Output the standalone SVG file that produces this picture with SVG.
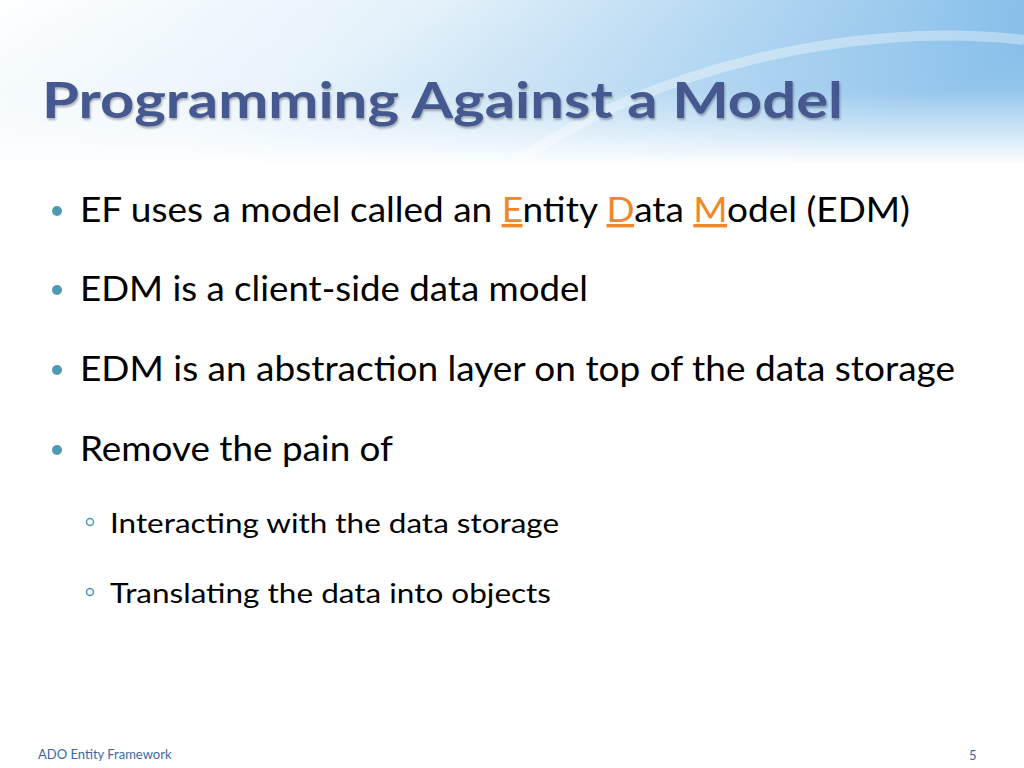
<svg xmlns="http://www.w3.org/2000/svg" width="1024" height="768" viewBox="0 0 1024 768">
<defs>
<linearGradient id="hdr" x1="0" y1="0" x2="1" y2="0.3">
<stop offset="0" stop-color="#ffffff"/>
<stop offset="0.4" stop-color="#e3f1fa"/>
<stop offset="1" stop-color="#7ab8e8"/>
</linearGradient>
<linearGradient id="fade" x1="0" y1="0" x2="0" y2="1">
<stop offset="0" stop-color="#fff" stop-opacity="0"/>
<stop offset="0.55" stop-color="#fff" stop-opacity="0.2"/>
<stop offset="1" stop-color="#fff" stop-opacity="1"/>
</linearGradient>
<filter id="sh"><feDropShadow dx="1" dy="2" stdDeviation="1.2" flood-color="#000" flood-opacity="0.3"/></filter>
<style>
.b{font-family:Lato,"Open Sans",sans-serif;font-size:34px;fill:#000}
.s{font-family:Lato,"Open Sans",sans-serif;font-size:27px;fill:#000}
.o{fill:#f0882a;text-decoration:underline}
.f{font-family:Lato,"Open Sans",sans-serif;font-size:13px;fill:#3b67a8}
</style>
</defs>
<rect width="1024" height="768" fill="#fff"/>
<rect width="1024" height="165" fill="url(#hdr)"/>
<path d="M520 160 C650 70 850 20 1024 40" fill="none" stroke="#fff" stroke-opacity="0.35" stroke-width="10"/>
<rect width="1024" height="165" fill="url(#fade)"/>
<text x="42" y="118" font-family="Lato,'Open Sans',sans-serif" font-weight="bold" font-size="50" fill="#45598f" textLength="801" lengthAdjust="spacingAndGlyphs" filter="url(#sh)">Programming Against a Model</text>
<g fill="#4f9ab0">
<circle cx="57" cy="211" r="5"/><circle cx="57" cy="290" r="5"/><circle cx="57" cy="370" r="5"/><circle cx="57" cy="450" r="5"/>
</g>
<g fill="none" stroke="#4f9ab0" stroke-width="1.5"><circle cx="90" cy="522" r="3.5"/><circle cx="90" cy="592" r="3.5"/></g>
<text class="b" x="80" y="222" textLength="830" lengthAdjust="spacingAndGlyphs">EF uses a model called an <tspan class="o">E</tspan>ntity <tspan class="o">D</tspan>ata <tspan class="o">M</tspan>odel (EDM)</text>
<text class="b" x="80" y="301" textLength="508" lengthAdjust="spacingAndGlyphs">EDM is a client-side data model</text>
<text class="b" x="80" y="381" textLength="875" lengthAdjust="spacingAndGlyphs">EDM is an abstraction layer on top of the data storage</text>
<text class="b" x="80" y="461" textLength="313" lengthAdjust="spacingAndGlyphs">Remove the pain of</text>
<text class="s" x="110" y="533" textLength="449" lengthAdjust="spacingAndGlyphs">Interacting with the data storage</text>
<text class="s" x="110" y="603" textLength="441" lengthAdjust="spacingAndGlyphs">Translating the data into objects</text>
<text class="f" x="38" y="759">ADO Entity Framework</text>
<text class="f" x="969" y="760">5</text>
</svg>
